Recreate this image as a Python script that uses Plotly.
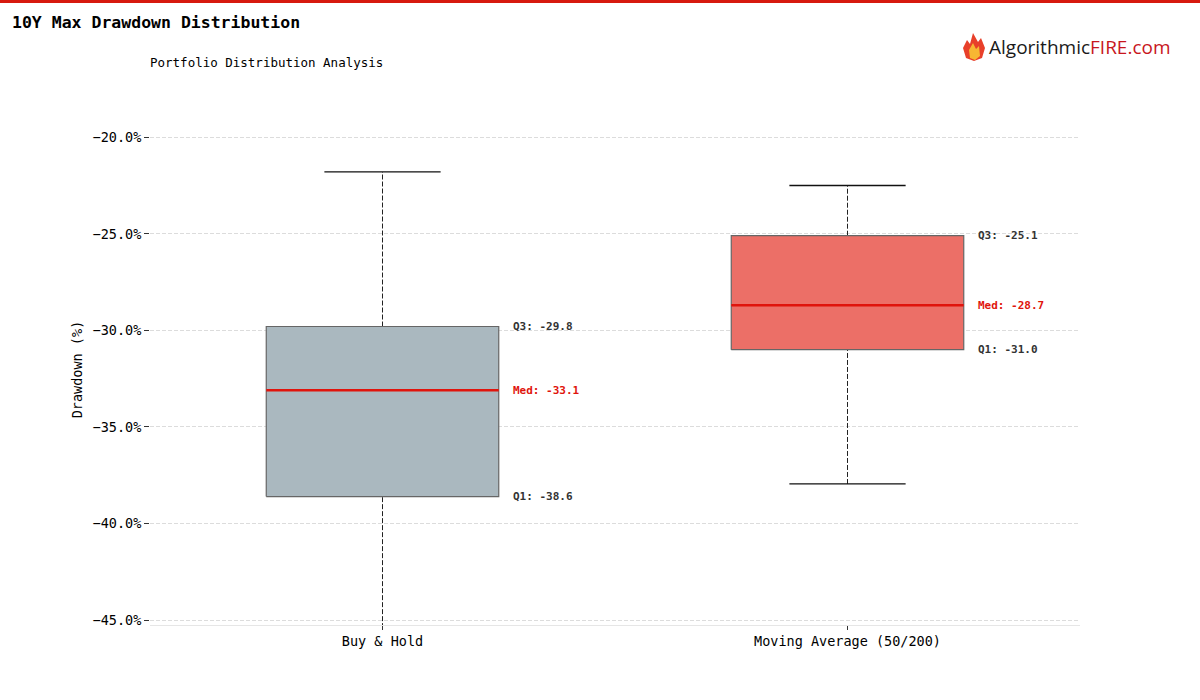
import plotly.graph_objects as go

# ---------------- data ----------------
strategies = ["Buy & Hold", "Moving Average (50/200)"]
whisker_low = [-46.5, -37.95]
q1_vals = [-38.6, -31.0]
median_vals = [-33.1, -28.7]
q3_vals = [-29.8, -25.1]
whisker_high = [-21.8, -22.5]
box_colors = ["#aab8bf", "#ec6f67"]

y_ticks = [-45, -40, -35, -30, -25, -20]
y_tick_labels = ["\u221245.0%", "\u221240.0%", "\u221235.0%", "\u221230.0%", "\u221225.0%", "\u221220.0%"]

# ---------------- layout geometry ----------------
W, H = 1200, 700
ML, MR, MT, MB = 150, 120, 114, 75
PW, PH = W - ML - MR, H - MT - MB


def px(x):
    return (x - ML) / PW


def py(y):
    return (H - MB - y) / PH


MONO = "DejaVu Sans Mono"
fig = go.Figure()

BOX_HALF = 0.25
CAP_HALF = 0.125

for i, name in enumerate(strategies):
    # whiskers (dashed)
    fig.add_trace(go.Scatter(x=[i, i], y=[q3_vals[i], whisker_high[i]], mode="lines",
                             line=dict(color="#222", width=1, dash="5px,2px"),
                             showlegend=False, hoverinfo="skip"))
    fig.add_trace(go.Scatter(x=[i, i], y=[whisker_low[i], q1_vals[i]], mode="lines",
                             line=dict(color="#222", width=1, dash="5px,2px"),
                             showlegend=False, hoverinfo="skip"))
    # caps
    fig.add_trace(go.Scatter(x=[i - CAP_HALF, i + CAP_HALF], y=[whisker_high[i]] * 2, mode="lines",
                             line=dict(color="#111", width=1.3), showlegend=False, hoverinfo="skip"))
    fig.add_trace(go.Scatter(x=[i - CAP_HALF, i + CAP_HALF], y=[whisker_low[i]] * 2, mode="lines",
                             line=dict(color="#111", width=1.3), showlegend=False, hoverinfo="skip"))
    # box
    fig.add_trace(go.Scatter(
        x=[i - BOX_HALF, i + BOX_HALF, i + BOX_HALF, i - BOX_HALF, i - BOX_HALF],
        y=[q1_vals[i], q1_vals[i], q3_vals[i], q3_vals[i], q1_vals[i]],
        mode="lines", fill="toself", fillcolor=box_colors[i],
        line=dict(color="#666", width=1.2), showlegend=False, name=name))
    # median
    fig.add_trace(go.Scatter(x=[i - BOX_HALF, i + BOX_HALF], y=[median_vals[i]] * 2, mode="lines",
                             line=dict(color="#e0140c", width=2.5), showlegend=False, hoverinfo="skip"))
    # labels
    for lab, val, col in [("Q3", q3_vals[i], "#333"), ("Med", median_vals[i], "#e0140c"),
                          ("Q1", q1_vals[i], "#333")]:
        fig.add_annotation(x=i + BOX_HALF + 0.026, y=val, xref="x", yref="y",
                           text=f"<b>{lab}: {val:.1f}</b>", showarrow=False,
                           xanchor="left", yanchor="middle",
                           font=dict(family=MONO, size=11, color=col))

# top red bar
fig.add_shape(type="rect", xref="paper", yref="paper", x0=px(0), x1=px(W), y0=py(3), y1=py(0),
              fillcolor="#d7190f", line=dict(width=0), layer="above")

# title & subtitle
fig.add_annotation(x=px(10), y=py(22), xref="paper", yref="paper", xanchor="left", yanchor="middle",
                   text="<b>10Y Max Drawdown Distribution</b>", showarrow=False,
                   font=dict(family=MONO, size=16.5, color="#000"))
fig.add_annotation(x=px(148), y=py(62), xref="paper", yref="paper", xanchor="left", yanchor="middle",
                   text="Portfolio Distribution Analysis", showarrow=False,
                   font=dict(family=MONO, size=12.5, color="#000"))

# logo text
fig.add_annotation(x=px(987), y=py(47), xref="paper", yref="paper", xanchor="left", yanchor="middle",
                   text="Algorithmic<span style='color:#c8161d'>FIRE.com</span>", showarrow=False,
                   font=dict(family="Open Sans", size=19, color="#1a1a1a"))


def path(points):
    return "M " + " L ".join(f"{px(x)},{py(y)}" for x, y in points) + " Z"


fig.add_shape(type="path", xref="paper", yref="paper",
              path=path([(966, 58), (963, 48), (967, 40), (970, 44), (973, 33), (978, 42), (981, 38),
                         (985, 48), (982, 58), (974, 61)]),
              fillcolor="#e8402a", line=dict(width=0))
fig.add_shape(type="path", xref="paper", yref="paper",
              path=path([(970, 58), (969, 50), (973, 43), (976, 49), (979, 46), (980, 56), (975, 60)]),
              fillcolor="#f7b733", line=dict(width=0))

fig.update_layout(
    width=W, height=H,
    margin=dict(l=ML, r=MR, t=MT, b=MB),
    plot_bgcolor="white", paper_bgcolor="white",
    showlegend=False,
    font=dict(family=MONO, color="#000"),
)
fig.update_xaxes(
    range=[-0.5, 1.5], tickvals=[0, 1], ticktext=strategies,
    showgrid=False, zeroline=False, showline=True, linecolor="#e6e6e6", linewidth=1,
    ticks="outside", ticklen=4, tickcolor="#333",
    tickfont=dict(family=MONO, size=13.5, color="#000"),
)
fig.update_yaxes(
    range=[-45.25, -18.8], tickmode="array", tickvals=y_ticks, ticktext=y_tick_labels,
    showgrid=True, gridcolor="#dcdcdc", griddash="4px,2px", gridwidth=1,
    zeroline=False, showline=False,
    ticks="outside", ticklen=5, tickcolor="#333",
    tickfont=dict(family=MONO, size=13.5, color="#000"),
    title=dict(text="Drawdown (%)", font=dict(family=MONO, size=13.5), standoff=6),
)

fig.write_html("out.html", config={"displayModeBar": False},
               post_script="document.body.style.margin='0';")
